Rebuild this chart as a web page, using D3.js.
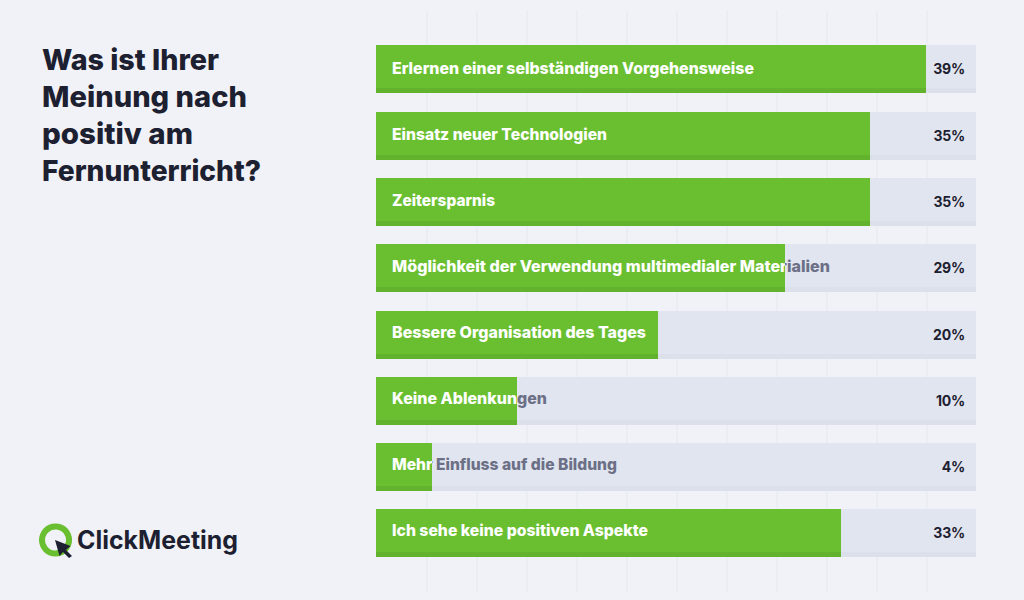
<!DOCTYPE html>
<html>
<head>
<meta charset="utf-8">
<script src="https://cdn.jsdelivr.net/npm/d3@7"></script>
<style>
  html, body { margin: 0; padding: 0; background: #f0f2f7; }
  svg { display: block; }
  text { font-family: Inter, "Open Sans", sans-serif; }
</style>
</head>
<body>
<div id="chart"></div>
<script>
// Data
const categories = [
    'Erlernen einer selbständigen Vorgehensweise',
    'Einsatz neuer Technologien',
    'Zeitersparnis',
    'Möglichkeit der Verwendung multimedialer Materialien',
    'Bessere Organisation des Tages',
    'Keine Ablenkungen',
    'Mehr Einfluss auf die Bildung',
    'Ich sehe keine positiven Aspekte'
]
const percentValues = [39, 35, 35, 29, 20, 10, 4, 33]
const titleLines = ['Was ist Ihrer', 'Meinung nach', 'positiv am', 'Fernunterricht?']
const logoText = 'ClickMeeting'

// Text widths, the installed font runs narrower than the original one
const labelWidths = [362, 215, 103, 438, 254, 155, 225, 256]
const titleWidths = [177, 205, 151, 219]

// Colors
const bgColor = '#f0f2f7'
const gridColor = '#ebedf4'
const trackColor = '#e1e5ef'
const trackEdgeColor = '#dbe0ea'
const barColor = '#6abf30'
const barEdgeColor = '#62b22d'
const darkColor = '#1c2030'
const mutedColor = '#6c7087'

// Dimensions
const width = 1024
const height = 600
const plotLeft = 376
const plotRight = 976
const plotTop = 45
const plotBottom = 557
const rowHeight = 48
const edgeHeight = 5
const maxValue = 42.55
const gridCount = 12

const svg = d3.select('#chart').append('svg')
    .attr('width', width)
    .attr('height', height)

svg.append('rect')
    .attr('width', width)
    .attr('height', height)
    .attr('fill', bgColor)

// Scales
const x = d3.scaleLinear().domain([0, maxValue]).range([plotLeft, plotRight])
const y = d3.scaleBand().domain(categories).range([plotTop, plotBottom]).paddingInner(0.276)
const xGrid = d3.scaleLinear().domain([0, gridCount]).range([plotLeft, plotRight])
const labelY = d3.scalePoint().domain(categories).range([74, 536])
const rowTop = c => Math.round(y(c) + 0.45)
const barWidth = v => Math.round(x(v)) - plotLeft

// Background grid
svg.append('g').selectAll('line')
    .data(d3.range(1, gridCount))
    .join('line')
    .attr('x1', d => xGrid(d) + 1)
    .attr('x2', d => xGrid(d) + 1)
    .attr('y1', 10)
    .attr('y2', 592)
    .attr('stroke', gridColor)
    .attr('stroke-width', 2)

const rows = svg.append('g').selectAll('g')
    .data(categories.map((c, i) => ({ category: c, value: percentValues[i], index: i })))
    .join('g')

// Track
rows.append('rect')
    .attr('x', plotLeft)
    .attr('y', d => rowTop(d.category))
    .attr('width', plotRight - plotLeft)
    .attr('height', rowHeight)
    .attr('fill', trackColor)
rows.append('rect')
    .attr('x', plotLeft)
    .attr('y', d => rowTop(d.category) + rowHeight - edgeHeight)
    .attr('width', plotRight - plotLeft)
    .attr('height', edgeHeight)
    .attr('fill', trackEdgeColor)

// Label under the bar, shows only past the green
rows.append('text')
    .attr('x', plotLeft + 16)
    .attr('y', d => labelY(d.category))
    .attr('font-size', 16)
    .attr('font-weight', 800)
    .attr('fill', mutedColor)
    .attr('textLength', d => labelWidths[d.index])
    .attr('lengthAdjust', 'spacingAndGlyphs')
    .text(d => d.category)

// Bar
rows.append('rect')
    .attr('x', plotLeft)
    .attr('y', d => rowTop(d.category))
    .attr('width', d => barWidth(d.value))
    .attr('height', rowHeight)
    .attr('fill', barColor)
rows.append('rect')
    .attr('x', plotLeft)
    .attr('y', d => rowTop(d.category) + rowHeight - edgeHeight)
    .attr('width', d => barWidth(d.value))
    .attr('height', edgeHeight)
    .attr('fill', barEdgeColor)

// White label clipped to the bar
const defs = svg.append('defs')
defs.selectAll('clipPath')
    .data(rows.data())
    .join('clipPath')
    .attr('id', d => 'clip-' + d.index)
    .append('rect')
    .attr('x', plotLeft)
    .attr('y', d => rowTop(d.category))
    .attr('width', d => barWidth(d.value))
    .attr('height', rowHeight)

rows.append('text')
    .attr('x', plotLeft + 16)
    .attr('y', d => labelY(d.category))
    .attr('font-size', 16)
    .attr('font-weight', 800)
    .attr('fill', '#ffffff')
    .attr('textLength', d => labelWidths[d.index])
    .attr('lengthAdjust', 'spacingAndGlyphs')
    .attr('clip-path', d => 'url(#clip-' + d.index + ')')
    .text(d => d.category)

// Percent labels
rows.append('text')
    .attr('x', plotRight - 11)
    .attr('y', d => rowTop(d.category) + 29)
    .attr('text-anchor', 'end')
    .attr('font-size', 14)
    .attr('font-weight', 700)
    .attr('letter-spacing', -0.2)
    .attr('fill', darkColor)
    .text(d => d.value + '%')

// Title
svg.append('g').selectAll('text')
    .data(titleLines)
    .join('text')
    .attr('x', 42)
    .attr('y', (d, i) => 70 + i * 37)
    .attr('font-size', 29)
    .attr('font-weight', 800)
    .attr('fill', darkColor)
    .attr('textLength', (d, i) => titleWidths[i])
    .attr('lengthAdjust', 'spacingAndGlyphs')
    .text(d => d)

// Logo
const logo = svg.append('g')
logo.append('path')
    .attr('transform', 'translate(55.5,540)')
    .attr('d', d3.arc().innerRadius(10.5).outerRadius(16.5).startAngle(Math.PI * 0.62).endAngle(Math.PI * 2.78)())
    .attr('fill', barColor)
logo.append('path')
    .attr('d', 'M55 540 L70.5 546 L66 550 L72 556 L69 558 L63 552 L59.5 556 Z')
    .attr('fill', darkColor)
logo.append('text')
    .attr('x', 77)
    .attr('y', 549)
    .attr('font-size', 25)
    .attr('font-weight', 700)
    .attr('fill', darkColor)
    .attr('textLength', 161)
    .attr('lengthAdjust', 'spacingAndGlyphs')
    .text(logoText)
</script>
</body>
</html>
